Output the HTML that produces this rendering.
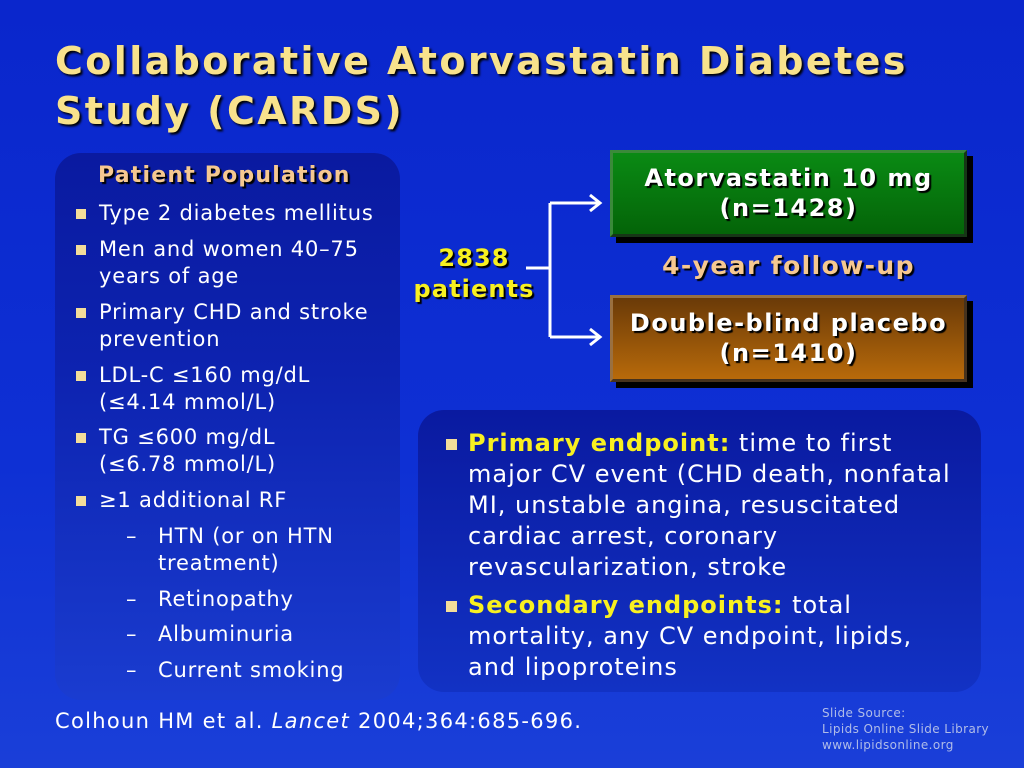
<!DOCTYPE html>
<html><head><meta charset="utf-8"><style>
body{margin:0;width:1024px;height:768px;overflow:hidden;font-family:"DejaVu Sans","Liberation Sans",sans-serif;}
#slide{position:relative;width:1024px;height:768px;background:linear-gradient(180deg,#0a26cc 0%,#0e30d4 60%,#1a3fd8 100%);}
.abs{position:absolute;}
.title{left:55px;top:36px;font-size:38px;letter-spacing:2.4px;font-weight:bold;color:#f8e28c;line-height:50px;text-shadow:2px 2px 2px #000;}
.lpanel{left:55px;top:153px;width:345px;height:547px;border-radius:26px;background:linear-gradient(180deg,#0a1aa0 0%,#0d23b0 40%,#1a3cd0 100%);}
.rpanel{left:418px;top:410px;width:563px;height:282px;border-radius:26px;background:linear-gradient(180deg,#0a1aa0 0%,#1232c4 100%);}
.t{color:#fff;font-size:21px;letter-spacing:0.8px;line-height:27px;white-space:nowrap;}
.b{width:10px;height:10px;background:#f3dd9a;}
.box{color:#fff;font-weight:bold;font-size:24px;letter-spacing:1.5px;line-height:30px;text-align:center;box-shadow:6px 6px 0 #000;text-shadow:2px 2px 1px #000;white-space:nowrap;}
.rt{color:#fff;font-size:24px;letter-spacing:1px;line-height:31px;white-space:nowrap;}
</style></head><body>
<div id="slide">
<div class="abs title">Collaborative Atorvastatin Diabetes<br>Study (CARDS)</div>

<div class="abs lpanel"></div>
<div class="abs" style="left:98px;top:163px;font-size:22px;letter-spacing:1.2px;font-weight:bold;color:#f6c890;text-shadow:2px 2px 1px #000;white-space:nowrap;">Patient Population</div>
<div>
<div class="abs b" style="left:76px;top:209px"></div><div class="abs t" style="left:99px;top:200px">Type 2 diabetes mellitus</div>
<div class="abs b" style="left:76px;top:245px"></div><div class="abs t" style="left:99px;top:236px">Men and women 40–75<br>years of age</div>
<div class="abs b" style="left:76px;top:308px"></div><div class="abs t" style="left:99px;top:299px">Primary CHD and stroke<br>prevention</div>
<div class="abs b" style="left:76px;top:371px"></div><div class="abs t" style="left:99px;top:362px">LDL-C ≤160 mg/dL<br>(≤4.14 mmol/L)</div>
<div class="abs b" style="left:76px;top:433px"></div><div class="abs t" style="left:99px;top:424px">TG ≤600 mg/dL<br>(≤6.78 mmol/L)</div>
<div class="abs b" style="left:76px;top:496px"></div><div class="abs t" style="left:99px;top:487px">≥1 additional RF</div>
<div class="abs t" style="left:126px;top:523px">–</div><div class="abs t" style="left:158px;top:523px">HTN (or on HTN<br>treatment)</div>
<div class="abs t" style="left:126px;top:586px">–</div><div class="abs t" style="left:158px;top:586px">Retinopathy</div>
<div class="abs t" style="left:126px;top:621px">–</div><div class="abs t" style="left:158px;top:621px">Albuminuria</div>
<div class="abs t" style="left:126px;top:657px">–</div><div class="abs t" style="left:158px;top:657px">Current smoking</div>
</div>

<div class="abs" style="left:400px;top:243px;width:148px;text-align:center;color:#f8f020;font-weight:bold;font-size:24px;letter-spacing:1.1px;line-height:31px;text-shadow:2px 2px 1px #000;">2838<br>patients</div>
<svg class="abs" style="left:520px;top:190px" width="100" height="160">
<g stroke="#fff" stroke-width="3" fill="none">
<path d="M6 78 H30 M30 13 V147 M30 13 H80 M30 147 H80"/>
<path d="M70 5 L80 13 L70 21 M70 139 L80 147 L70 155"/>
</g></svg>
<div class="abs box" style="left:610px;top:150px;width:357px;height:87px;background:linear-gradient(180deg,#0a8a14,#046408);border:3px outset #3a8a3a;box-sizing:border-box;padding-top:10px;">Atorvastatin 10 mg<br>(n=1428)</div>
<div class="abs" style="left:600px;top:251px;width:377px;text-align:center;color:#f6c890;font-weight:bold;font-size:25px;letter-spacing:1.4px;text-shadow:2px 2px 1px #000;">4-year follow-up</div>
<div class="abs box" style="left:610px;top:295px;width:357px;height:87px;background:linear-gradient(180deg,#6a3a08,#b86a0a);border:3px outset #9a7040;box-sizing:border-box;padding-top:10px;">Double-blind placebo<br>(n=1410)</div>

<div class="abs rpanel"></div>
<div class="abs b" style="left:446px;top:439px;width:11px;height:11px"></div>
<div class="abs rt" style="left:468px;top:428px"><b style="color:#f8f020">Primary endpoint:</b> time to first<br>major CV event (CHD death, nonfatal<br>MI, unstable angina, resuscitated<br>cardiac arrest, coronary<br>revascularization, stroke</div>
<div class="abs b" style="left:446px;top:601px;width:11px;height:11px"></div>
<div class="abs rt" style="left:468px;top:590px"><b style="color:#f8f020">Secondary endpoints:</b> total<br>mortality, any CV endpoint, lipids,<br>and lipoproteins</div>

<div class="abs" style="left:55px;top:709px;color:#fff;font-size:21px;letter-spacing:1.3px;white-space:nowrap;">Colhoun HM et al. <i>Lancet</i> 2004;364:685-696.</div>
<div class="abs" style="left:822px;top:705px;color:#b0bce8;font-size:12px;letter-spacing:0.4px;line-height:16px;white-space:nowrap;">Slide Source:<br>Lipids Online Slide Library<br>www.lipidsonline.org</div>
</div>
</body></html>
